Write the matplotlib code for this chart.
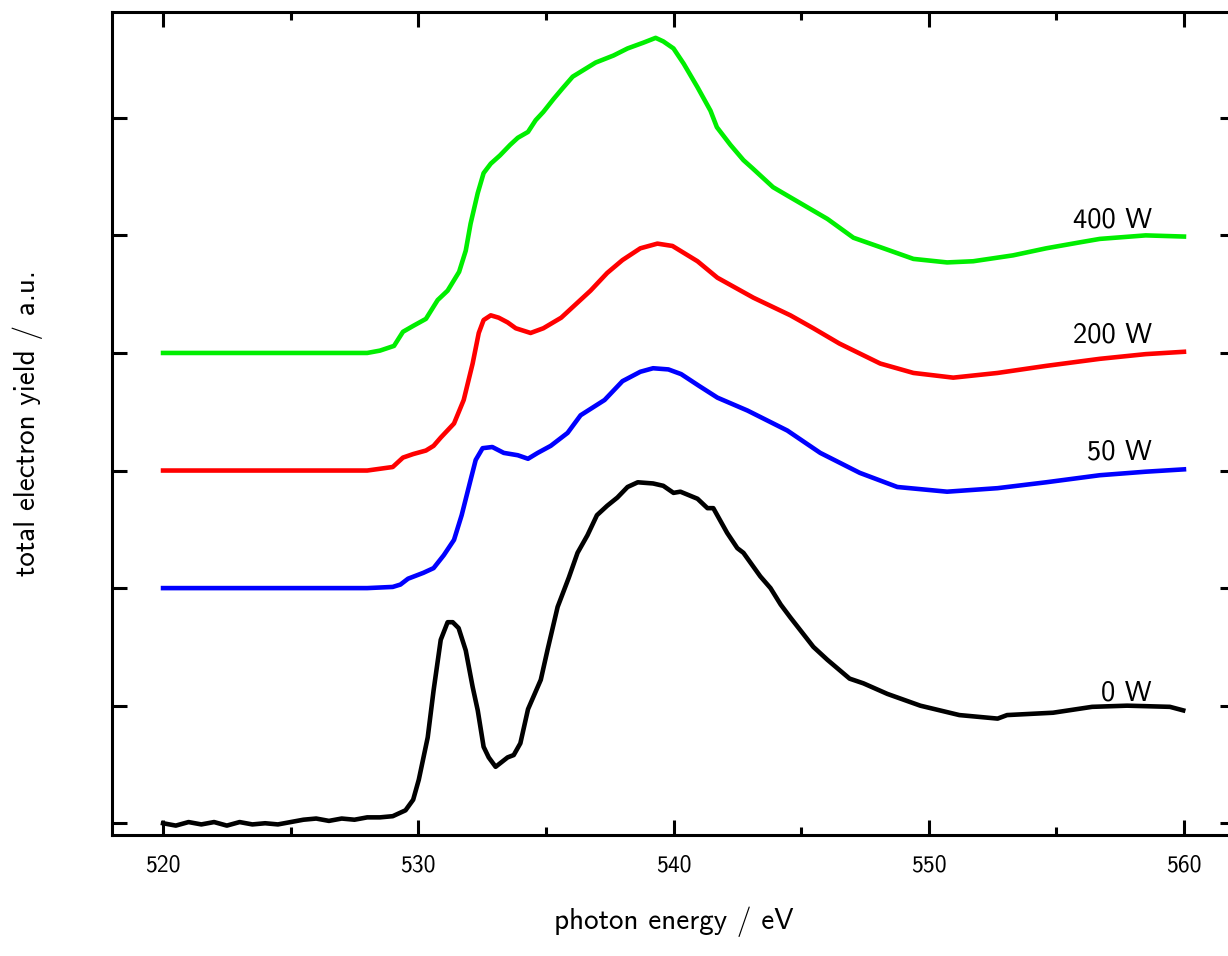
import numpy as np
import matplotlib
matplotlib.use("Agg")
import matplotlib.pyplot as plt
from matplotlib.ticker import MultipleLocator, NullFormatter

plt.rcParams['font.family'] = ['cmss10', 'DejaVu Sans']
plt.rcParams['axes.unicode_minus'] = False

# O K-edge TEY spectra, offset by one unit per plasma power
e_0w = [520, 520.5, 521, 521.5, 522, 522.5, 523, 523.5, 524, 524.5, 525, 525.5, 526, 526.5, 527, 527.5, 528, 528.5,
        529, 529.5, 529.8, 530.02, 530.37, 530.6, 530.88, 531.15, 531.35, 531.58, 531.86, 532.13, 532.33, 532.56,
        532.76, 533.03, 533.5, 533.74, 534.0, 534.3, 534.52, 534.8, 535.07, 535.46, 535.9, 536.24, 536.63, 537.0,
        537.4, 537.8, 538.2, 538.6, 539.2, 539.6, 540.0, 540.27, 540.94, 541.33, 541.56, 542.1, 542.5, 542.74,
        543.4, 543.8, 544.2, 544.58, 545.48, 546.03, 546.9, 547.44, 548.38, 549.67, 551.2, 552.7, 553.07, 554.87,
        556.4, 557.77, 559.45, 559.97]
y_0w = [0.00, -0.02, 0.01, -0.01, 0.01, -0.02, 0.01, -0.01, 0.00, -0.01, 0.01, 0.03, 0.04, 0.02, 0.04, 0.03, 0.05, 0.05,
        0.06, 0.11, 0.20, 0.37, 0.73, 1.13, 1.56, 1.71, 1.71, 1.66, 1.47, 1.16, 0.96, 0.65,
        0.56, 0.48, 0.56, 0.58, 0.68, 0.97, 1.08, 1.22, 1.48, 1.84, 2.09, 2.30, 2.45, 2.62,
        2.70, 2.77, 2.86, 2.90, 2.89, 2.87, 2.81, 2.82, 2.76, 2.68, 2.68, 2.47, 2.34, 2.30,
        2.10, 2.00, 1.86, 1.75, 1.50, 1.39, 1.23, 1.19, 1.10, 1.00, 0.92, 0.89, 0.92, 0.94,
        0.99, 1.00, 0.99, 0.96]

e_50w = [520, 524, 528, 529, 529.3, 529.6, 530.2, 530.6, 531.0, 531.4, 531.7, 532.05, 532.25, 532.52, 532.9,
         533.35, 533.9, 534.3, 534.68, 535.19, 535.85, 536.36, 537.3, 538.0, 538.7, 539.2, 539.8, 540.3, 541.0,
         541.72, 542.9, 544.46, 545.75, 547.3, 548.77, 550.72, 552.7, 554.6, 556.7, 558.5, 560]
y_50w = [2.00, 2.00, 2.00, 2.01, 2.03, 2.08, 2.13, 2.17, 2.28, 2.41, 2.62, 2.92, 3.09, 3.19, 3.20,
         3.15, 3.13, 3.10, 3.15, 3.21, 3.32, 3.47, 3.60, 3.76, 3.84, 3.87, 3.86, 3.82, 3.72,
         3.62, 3.51, 3.34, 3.15, 2.98, 2.86, 2.82, 2.85, 2.90, 2.96, 2.99, 3.01]

e_200w = [520, 524, 528, 529, 529.4, 529.8, 530.3, 530.6, 530.88, 531.4, 531.78, 532.13, 532.37, 532.56, 532.84,
          533.15, 533.5, 533.82, 534.4, 534.9, 535.6, 536.1, 536.75, 537.4, 538.0, 538.7, 539.37, 539.96, 540.94,
          541.72, 543.13, 544.58, 545.48, 546.5, 548.1, 549.4, 550.96, 552.7, 554.6, 556.7, 558.5, 560]
y_200w = [3.00, 3.00, 3.00, 3.03, 3.11, 3.14, 3.17, 3.21, 3.28, 3.40, 3.60, 3.91, 4.17, 4.28, 4.32,
          4.30, 4.26, 4.21, 4.17, 4.21, 4.30, 4.40, 4.53, 4.68, 4.79, 4.89, 4.93, 4.91, 4.78,
          4.64, 4.47, 4.32, 4.21, 4.08, 3.91, 3.83, 3.79, 3.83, 3.89, 3.95, 3.99, 4.01]

e_400w = [520, 524, 528, 528.5, 529.05, 529.4, 529.8, 530.3, 530.76, 531.15, 531.6, 531.86, 532.05, 532.33, 532.56,
          532.84, 533.2, 533.6, 533.9, 534.3, 534.6, 534.9, 535.3, 535.65, 536.05, 536.5, 536.95, 537.65, 538.2,
          538.83, 539.3, 539.6, 540.0, 540.4, 540.94, 541.45, 541.7, 542.23, 542.74, 543.1, 543.9, 544.45, 545.24,
          546.03, 547.05, 548.1, 549.4, 550.72, 551.74, 553.3, 554.6, 555.9, 556.7, 558.5, 560]
y_400w = [4.00, 4.00, 4.00, 4.02, 4.06, 4.18, 4.23, 4.29, 4.45, 4.53, 4.69, 4.87, 5.10, 5.36, 5.53,
          5.61, 5.68, 5.77, 5.83, 5.88, 5.98, 6.05, 6.16, 6.25, 6.35, 6.41, 6.47, 6.53, 6.59,
          6.64, 6.68, 6.65, 6.59, 6.46, 6.26, 6.06, 5.92, 5.77, 5.64, 5.57, 5.41, 5.34, 5.24,
          5.14, 4.98, 4.90, 4.80, 4.77, 4.78, 4.83, 4.89, 4.94, 4.97, 5.00, 4.99]

series = [
    (e_0w, y_0w, 'black', '0 W'),
    (e_50w, y_50w, '#0000ff', '50 W'),
    (e_200w, y_200w, '#ff0000', '200 W'),
    (e_400w, y_400w, '#00ee00', '400 W'),
]

fig = plt.figure(figsize=(12.28, 9.56), dpi=100)
ax = fig.add_axes([112 / 1228, 121 / 956, 1123 / 1228, 823 / 956])

for e, y, c, lab in series:
    ax.plot(e, y, color=c, lw=3.3, solid_joinstyle='round')
    ax.text(558.75, y[-1] + 0.08, lab, ha='right', va='baseline', fontsize=20.5)

ax.set_xlim(518, 562)
ax.set_ylim(-0.1, 6.9)
ax.xaxis.set_major_locator(MultipleLocator(10))
ax.xaxis.set_minor_locator(MultipleLocator(5))
ax.yaxis.set_major_locator(MultipleLocator(1))
ax.yaxis.set_major_formatter(NullFormatter())

ax.tick_params(which='both', direction='in', top=True, right=True, width=2.2)
ax.tick_params(which='major', length=11, labelsize=17, pad=14)
ax.tick_params(which='minor', length=6)
for s in ax.spines.values():
    s.set_linewidth(2.2)

ax.set_xlabel('photon energy / eV', fontsize=21)
ax.set_ylabel('total electron yield / a.u.', fontsize=21)
ax.xaxis.set_label_coords(0.5, -0.087)
ax.yaxis.set_label_coords(-0.061, 0.5)

fig.savefig('out.png', dpi=100)
